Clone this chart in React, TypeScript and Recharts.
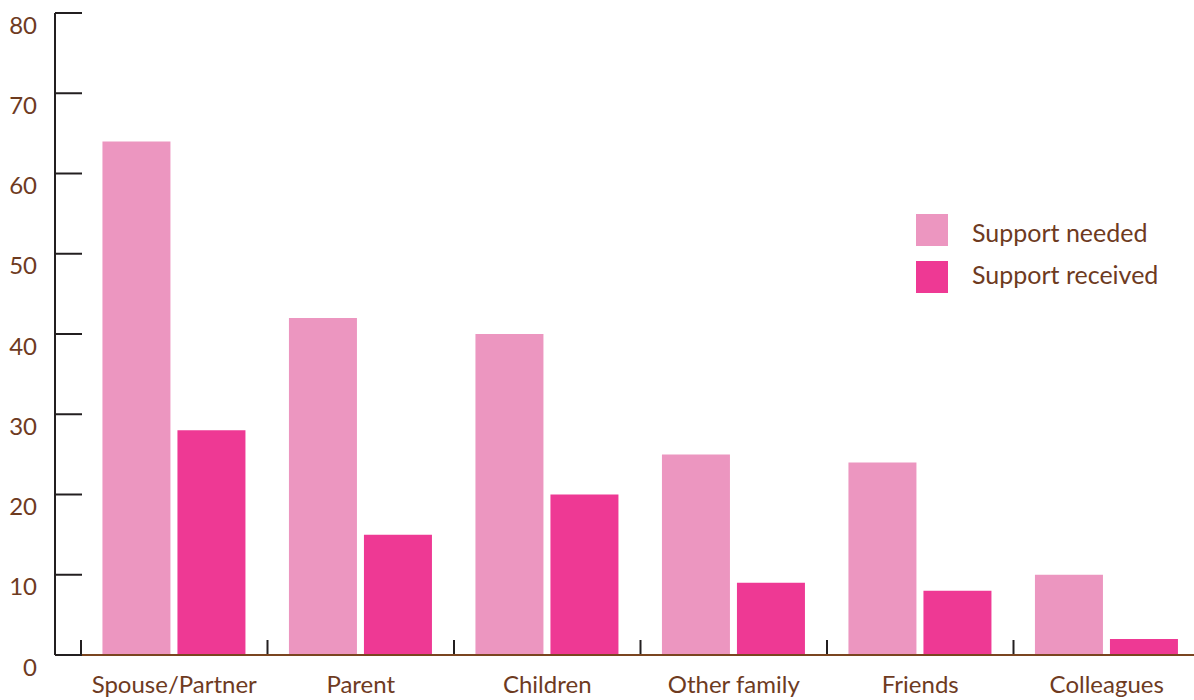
import React from "react";
import { BarChart, Bar, XAxis, YAxis } from "recharts";

const categories = ["Spouse/Partner", "Parent", "Children", "Other family", "Friends", "Colleagues"];
const supportNeeded = [64, 42, 40, 25, 24, 10];
const supportReceived = [28, 15, 20, 9, 8, 2];
const yTicks = [0, 10, 20, 30, 40, 50, 60, 70, 80];
const seriesNames = ["Support needed", "Support received"];

const data = categories.map((name, i) => ({
  name,
  needed: supportNeeded[i],
  received: supportReceived[i],
}));

const LIGHT = "#EC96C0";
const HOT = "#EE3994";
const TEXT = "#6E3B1F";
const DARK = "#231F20";
const FONT = "Lato, 'Open Sans', sans-serif";

const YTick = (props: any) => {
  const { x, y, payload } = props;
  return (
    <g>
      <line x1={x} x2={x + 27} y1={y} y2={y} stroke={DARK} strokeWidth={2} />
      <text
        x={x - 18}
        y={y + 11}
        textAnchor="end"
        dominantBaseline="central"
        fill={TEXT}
        fontSize={24}
        fontFamily={FONT}
      >
        {payload.value}
      </text>
    </g>
  );
};

// category label plus a dark tick at the left edge of its band
const XTick = (props: any) => {
  const { x, y, payload } = props;
  const half = payload.offset ?? 93;
  return (
    <g>
      <line x1={x - half} x2={x - half} y1={y - 1} y2={y - 15} stroke={DARK} strokeWidth={2} />
      <text x={x} y={y + 21} dy="0.71em" textAnchor="middle" fill={TEXT} fontSize={24} fontFamily={FONT}>
        {payload.value}
      </text>
    </g>
  );
};

const LegendBox = () => {
  const colors = [LIGHT, HOT];
  return (
    <div style={{ position: "absolute", left: 916, top: 214, fontFamily: FONT }}>
      {seriesNames.map((label, i) => (
        <div key={label} style={{ display: "flex", alignItems: "center", height: 32, marginBottom: 15 }}>
          <span style={{ display: "block", width: 32, height: 32, background: colors[i], marginRight: 24 }} />
          <span style={{ color: TEXT, fontSize: 25, marginTop: i === 0 ? 3 : -6 }}>{label}</span>
        </div>
      ))}
    </div>
  );
};

export default function App() {
  return (
    <div style={{ position: "absolute", left: 0, top: 0, width: 1194, height: 700, overflow: "hidden", background: "#fff" }}>
      <BarChart
        width={1200}
        height={700}
        data={data}
        margin={{ top: 13, right: 0, bottom: 0, left: 0 }}
        barCategoryGap="11.5%"
        barGap={7}
      >
        <XAxis
          dataKey="name"
          height={45}
          padding={{ left: 26, right: 0 }}
          axisLine={{ stroke: "#7A4520", strokeWidth: 2 }}
          tickLine={false}
          tickSize={0}
          tickMargin={0}
          interval={0}
          tick={<XTick />}
        />
        <YAxis
          width={55}
          domain={[0, 80]}
          ticks={yTicks}
          tickSize={0}
          tickMargin={0}
          tickLine={false}
          axisLine={{ stroke: DARK, strokeWidth: 2 }}
          tick={<YTick />}
        />
        <Bar dataKey="needed" name={seriesNames[0]} fill={LIGHT} isAnimationActive={false} />
        <Bar dataKey="received" name={seriesNames[1]} fill={HOT} isAnimationActive={false} />
      </BarChart>
      <LegendBox />
    </div>
  );
}
